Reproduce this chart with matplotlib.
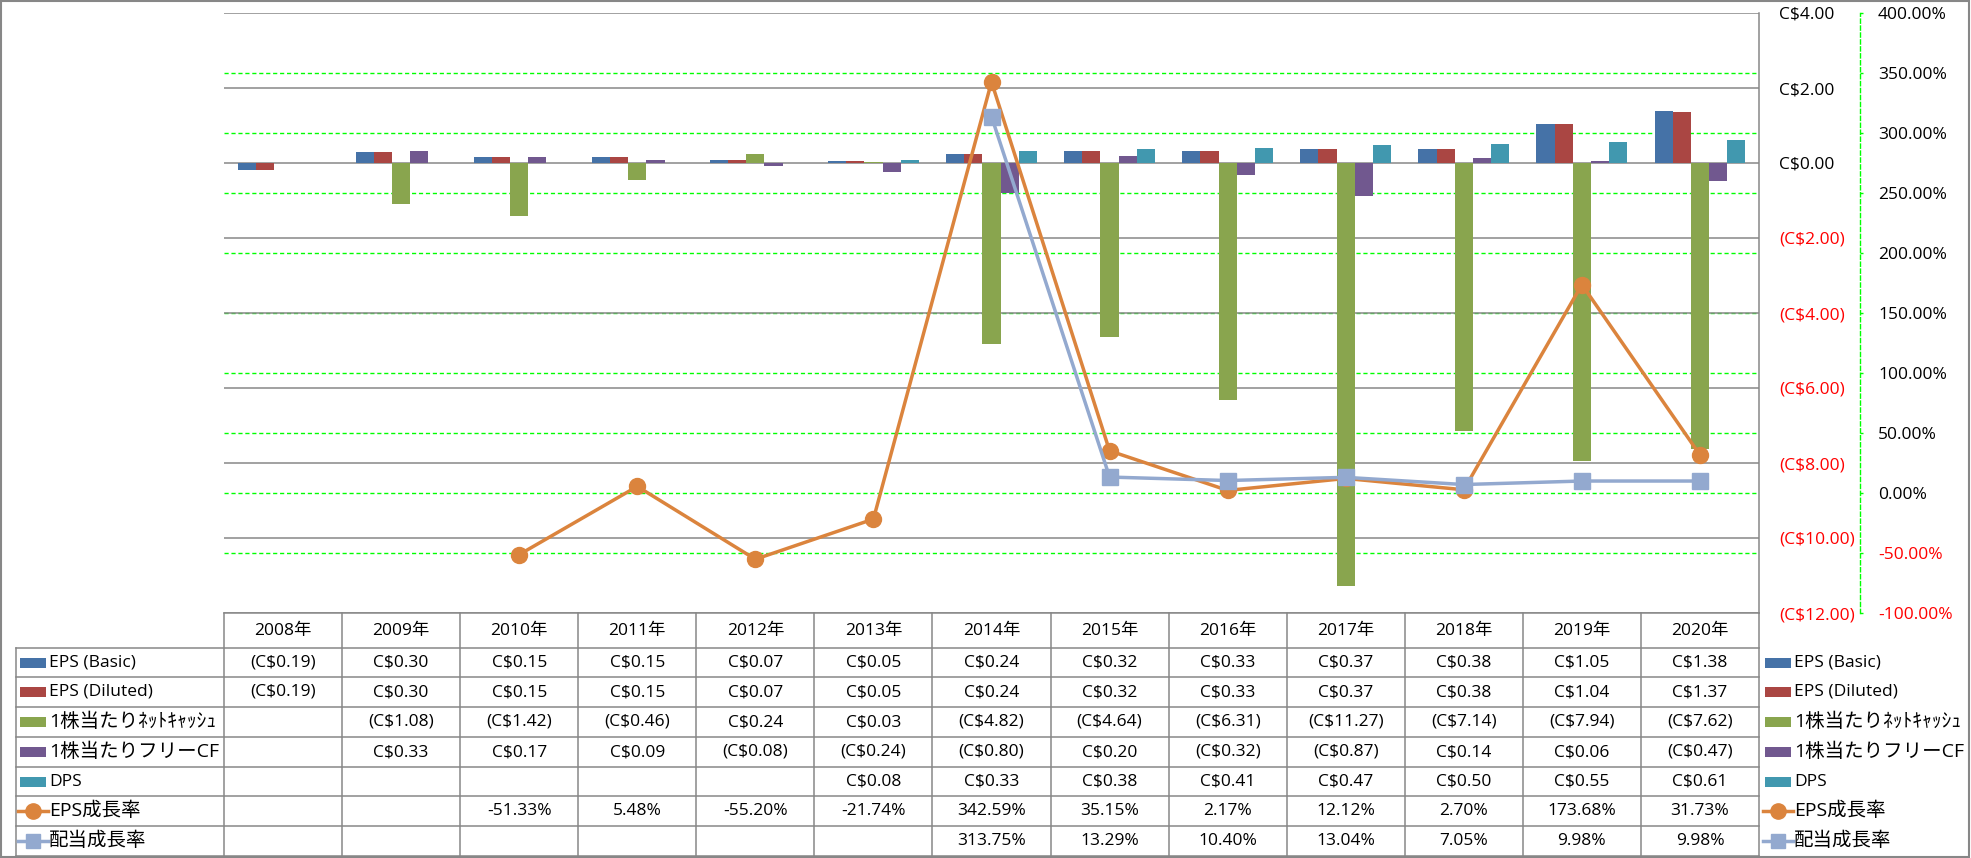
import numpy as np
import matplotlib
matplotlib.use('Agg')
import matplotlib.pyplot as plt
from matplotlib.patches import Rectangle

plt.rcParams['font.family'] = ['Open Sans', 'Noto Sans CJK JP', 'DejaVu Sans']

years = ['2008年', '2009年', '2010年', '2011年', '2012年', '2013年', '2014年',
         '2015年', '2016年', '2017年', '2018年', '2019年', '2020年']

eps_basic = [-0.19, 0.30, 0.15, 0.15, 0.07, 0.05, 0.24, 0.32, 0.33, 0.37, 0.38, 1.05, 1.38]
eps_diluted = [-0.19, 0.30, 0.15, 0.15, 0.07, 0.05, 0.24, 0.32, 0.33, 0.37, 0.38, 1.04, 1.37]
net_cash = [None, -1.08, -1.42, -0.46, 0.24, 0.03, -4.82, -4.64, -6.31, -11.27, -7.14, -7.94, -7.62]
fcf = [None, 0.33, 0.17, 0.09, -0.08, -0.24, -0.80, 0.20, -0.32, -0.87, 0.14, 0.06, -0.47]
dps = [None, None, None, None, None, 0.08, 0.33, 0.38, 0.41, 0.47, 0.50, 0.55, 0.61]
eps_growth = [None, None, -51.33, 5.48, -55.20, -21.74, 342.59, 35.15, 2.17, 12.12, 2.70, 173.68, 31.73]
div_growth = [None, None, None, None, None, None, 313.75, 13.29, 10.40, 13.04, 7.05, 9.98, 9.98]

bar_names = ['EPS (Basic)', 'EPS (Diluted)', '1株当たりﾈｯﾄｷｬｯｼｭ', '1株当たりフリーCF', 'DPS']
line_names = ['EPS成長率', '配当成長率']

bar_colors = ['#4572A7', '#AA4643', '#89A54E', '#71588F', '#4198AF']
line_colors = ['#DB843D', '#93A9CF']
line_markers = ['o', 's']

money_ticks = [-12, -10, -8, -6, -4, -2, 0, 2, 4]
pct_ticks = [-100, -50, 0, 50, 100, 150, 200, 250, 300, 350, 400]

GRAY = '#878787'
GREEN = '#00FF00'
RED = '#FF0000'
FS = 12.5
FS_JP = 14


def fmt_money(v):
    if v is None:
        return ''
    if v < 0:
        return '(C${:.2f})'.format(-v)
    return 'C${:.2f}'.format(v)


def fmt_pct(v):
    if v is None:
        return ''
    return '{:.2f}%'.format(v)


def has_cjk(s):
    return any(ord(c) > 0x2E80 for c in s)


W, H = 1971, 858
fig = plt.figure(figsize=(W / 100, H / 100), dpi=100)


def box(l, t, r, b):
    return [l / W, 1 - b / H, (r - l) / W, (b - t) / H]


L, R, T, B = 224, 1759, 13, 613
n = len(years)
x = np.arange(n)

# secondary axis (percent) - sits at the back, holds the green grid
ax2 = fig.add_axes(box(L, T, R, B))
ax2.set_zorder(1)
ax2.set_xlim(-0.5, n - 0.5)
ax2.set_ylim(-100, 400)
ax2.set_xticks([])
for s in ['top', 'left', 'bottom']:
    ax2.spines[s].set_visible(False)
ax2.yaxis.tick_right()
ax2.spines['right'].set_position(('outward', 72.7))
ax2.spines['right'].set_color(GREEN)
ax2.spines['right'].set_linestyle((0, (3, 2)))
ax2.spines['right'].set_linewidth(1)
ax2.set_yticks(pct_ticks)
ax2.set_yticklabels(['{:.2f}%'.format(p) for p in pct_ticks], fontsize=FS)
ax2.tick_params(axis='y', length=2.5, width=1, color=GREEN, pad=10.5)
for lab, p in zip(ax2.get_yticklabels(), pct_ticks):
    lab.set_color(RED if p < 0 else 'black')
for p in pct_ticks[1:-1]:
    ax2.axhline(p, color=GREEN, lw=1, dashes=(3, 2), zorder=0)

# primary axis (C$) - bars
ax = fig.add_axes(box(L, T, R, B))
ax.set_zorder(2)
ax.patch.set_visible(False)
ax.set_xlim(-0.5, n - 0.5)
ax.set_ylim(-12, 4)
ax.set_xticks([])
for s in ['top', 'left', 'bottom']:
    ax.spines[s].set_visible(False)
ax.spines['right'].set_color(GRAY)
ax.spines['right'].set_linewidth(1.1)
ax.yaxis.tick_right()
ax.set_yticks(money_ticks)
ax.set_yticklabels([fmt_money(v) for v in money_ticks], fontsize=FS)
ax.tick_params(axis='y', length=0, pad=14.5)
for lab, v in zip(ax.get_yticklabels(), money_ticks):
    lab.set_color(RED if v < 0 else 'black')
for v in money_ticks:
    ax.axhline(v, color=GRAY, lw=1.1, zorder=0)

bar_series = [eps_basic, eps_diluted, net_cash, fcf, dps]
w = 1 / 6.5
for i, (vals, col) in enumerate(zip(bar_series, bar_colors)):
    idx = [k for k, v in enumerate(vals) if v is not None]
    hv = [vals[k] for k in idx]
    ax.bar(np.array(idx) + (i - 2) * w, hv, width=w, color=col, zorder=2, linewidth=0)

# growth lines on top
ax3 = fig.add_axes(box(L, T, R, B), sharex=ax2)
ax3.set_zorder(3)
ax3.patch.set_visible(False)
ax3.set_ylim(-100, 400)
ax3.axis('off')
line_series = [eps_growth, div_growth]
for vals, col, mk in zip(line_series, line_colors, line_markers):
    idx = [k for k, v in enumerate(vals) if v is not None]
    hv = [vals[k] for k in idx]
    ax3.plot(idx, hv, color=col, lw=2.5, marker=mk, markersize=11.5 if mk == 'o' else 11,
             markerfacecolor=col, markeredgecolor=col, solid_joinstyle='round')

# data table underneath
axT = fig.add_axes([0, 0, 1, 1])
axT.set_zorder(5)
axT.patch.set_visible(False)
axT.set_xlim(0, W)
axT.set_ylim(H, 0)
axT.axis('off')

rows = [613, 648, 677, 707, 737, 767, 796, 826, 856]
cols = [L + k * (R - L) / n for k in range(n + 1)]
tlw = 1.1

axT.plot([L, R], [rows[0], rows[0]], color=GRAY, lw=tlw)
for yy in rows[1:]:
    axT.plot([16, R], [yy, yy], color=GRAY, lw=tlw)
for xx in cols:
    axT.plot([xx, xx], [rows[0], rows[-1]], color=GRAY, lw=tlw)
axT.plot([16, 16], [rows[1], rows[-1]], color=GRAY, lw=tlw)

for k, yr in enumerate(years):
    axT.text((cols[k] + cols[k + 1]) / 2, (rows[0] + rows[1]) / 2, yr,
             ha='center', va='center', fontsize=FS)

all_rows = [(bar_names[i], bar_series[i], fmt_money, bar_colors[i], None) for i in range(5)]
all_rows += [(line_names[i], line_series[i], fmt_pct, line_colors[i], line_markers[i]) for i in range(2)]

for r, (name, vals, fmt, col, mk) in enumerate(all_rows):
    yc = (rows[r + 1] + rows[r + 2]) / 2
    for k, v in enumerate(vals):
        axT.text((cols[k] + cols[k + 1]) / 2, yc, fmt(v), ha='center', va='center', fontsize=FS)
    for x0 in (20, 1765):
        if mk is None:
            axT.add_patch(Rectangle((x0, yc - 5), 26, 10, color=col, lw=0))
        else:
            axT.plot([x0 - 2, x0 + 28], [yc, yc], color=col, lw=2.5)
            axT.plot([x0 + 13], [yc], marker=mk, color=col, markersize=11 if mk == 'o' else 10)
        axT.text(x0 + 29, yc, name, ha='left', va='center',
                 fontsize=FS_JP if has_cjk(name) else FS)

# outer frame
axT.add_patch(Rectangle((1, 1), W - 3, H - 2.5, fill=False, edgecolor=GRAY, lw=1.5))

fig.savefig('out.png', dpi=100)
